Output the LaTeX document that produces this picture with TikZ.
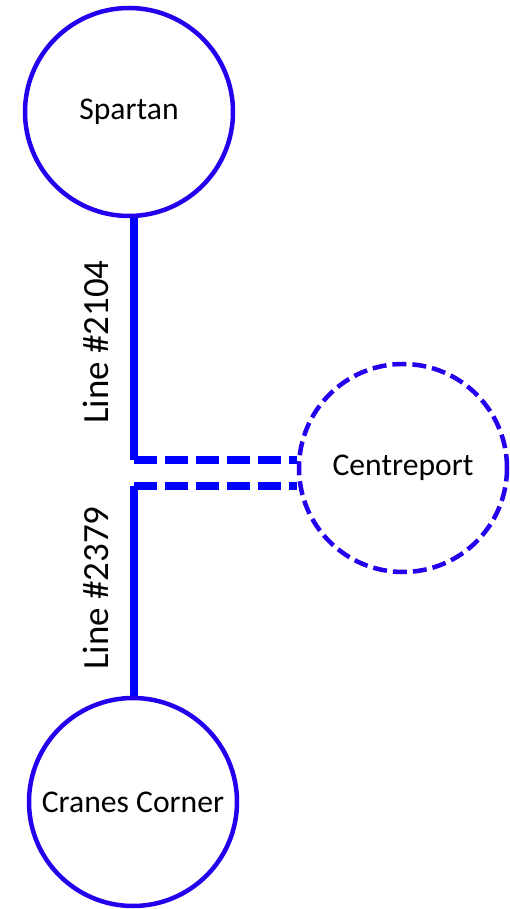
\documentclass[tikz,border=0pt]{standalone}
\usepackage{fontspec}
\setmainfont{Carlito}
\usetikzlibrary{positioning}
\definecolor{stationblue}{RGB}{34,0,238}
\definecolor{lineblue}{RGB}{0,0,255}
\begin{document}
\begin{tikzpicture}[
    station/.style={circle, draw=stationblue, line width=0.09cm, minimum size=4.16cm, inner sep=0pt, font=\fontsize{18}{22}\selectfont},
    planned/.style={station, dash pattern=on 0.28cm off 0.12cm},
    route/.style={draw=lineblue, line width=0.15cm},
    plannedroute/.style={route, dash pattern=on 0.46cm off 0.16cm},
    linelabel/.style={rotate=90, font=\fontsize{21}{25}\selectfont}
]
    \useasboundingbox (0,0) rectangle (10.2,18.18);
    \node[station] (spartan) at (2.58,15.94) {Spartan};
    \node[planned] (centreport) at (8.06,8.82) {Centreport};
    \node[station] (cranes) at (2.66,2.14) {Cranes Corner};
    \coordinate (tee1) at (2.68,8.98);
    \coordinate (tee2) at (2.68,8.46);
    \draw[route] (tee1 |- spartan.south) -- (tee1);
    \draw[route] (tee2) -- (tee2 |- cranes.north);
    \draw[plannedroute] (tee1) -- (tee1 -| centreport.west);
    \draw[plannedroute] (tee2) -- (tee2 -| centreport.west);
    \node[linelabel] (line2104) at (1.92,11.34) {Line \#2104};
    \node[linelabel] (line2379) at (1.92,6.42) {Line \#2379};
\end{tikzpicture}
\end{document}
